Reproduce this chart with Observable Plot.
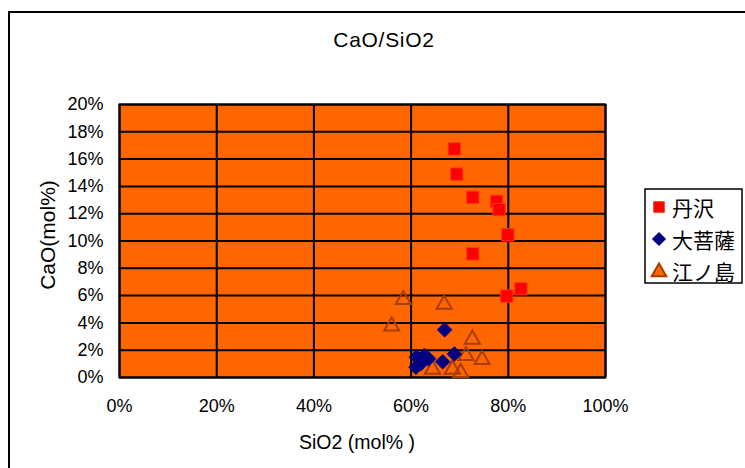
<!DOCTYPE html>
<html>
<head>
<meta charset="utf-8">
<script src="https://cdn.jsdelivr.net/npm/d3@7"></script>
<script src="https://cdn.jsdelivr.net/npm/@observablehq/plot@0.6"></script>
<style>
  body { margin: 0; background: #fff; }
  #chart { position: relative; width: 745px; height: 468px; }
</style>
</head>
<body>
<div id="chart"></div>
<script>
// ---- data (fractions; axes show percent) ----
const chartTitle = "CaO/SiO2";
const xTitle = "SiO2 (mol% )";
const yTitle = "CaO(mol%)";
const seriesNames = ["丹沢", "大菩薩", "江ノ島"];

const tanzawaSiO2 = [0.689, 0.694, 0.727, 0.776, 0.781, 0.799, 0.727, 0.826, 0.797];
const tanzawaCaO  = [0.1675, 0.149, 0.132, 0.129, 0.123, 0.1045, 0.0906, 0.065, 0.0596];

const daibosatsuSiO2 = [0.669, 0.689, 0.665, 0.636, 0.627, 0.611, 0.620, 0.610];
const daibosatsuCaO  = [0.035, 0.0172, 0.0116, 0.0138, 0.0160, 0.0150, 0.0100, 0.0075];

const enoshimaSiO2 = [0.584, 0.668, 0.560, 0.726, 0.713, 0.746, 0.644, 0.685, 0.702];
const enoshimaCaO  = [0.057, 0.0535, 0.0376, 0.028, 0.016, 0.013, 0.0060, 0.0060, 0.0035];

const xTicks = [0, 0.2, 0.4, 0.6, 0.8, 1.0];
const yTicks = [0, 0.02, 0.04, 0.06, 0.08, 0.10, 0.12, 0.14, 0.16, 0.18, 0.20];

// ---- build table ----
const toRows = (xs, ys, name) => xs.map((x, i) => ({ x, y: ys[i], s: name }));
const tanzawa = toRows(tanzawaSiO2, tanzawaCaO, seriesNames[0]);
const daibosatsu = toRows(daibosatsuSiO2, daibosatsuCaO, seriesNames[1]);
const enoshima = toRows(enoshimaSiO2, enoshimaCaO, seriesNames[2]);

const pct = d3.format(".0%");
const FONT = "'Liberation Sans', Arial, sans-serif";

const plot = Plot.plot({
  width: 745,
  height: 468,
  marginLeft: 119,
  marginRight: 140,
  marginTop: 104,
  marginBottom: 91,
  style: { fontFamily: FONT, background: "#fff", color: "#000" },
  x: { domain: [0, 1], ticks: xTicks },
  y: { domain: [0, 0.2], ticks: yTicks },
  marks: [
    Plot.frame({ fill: "#FF6600", stroke: null }),
    Plot.gridX(xTicks, { stroke: "#000", strokeOpacity: 1, strokeWidth: 2 }),
    Plot.gridY(yTicks, { stroke: "#000", strokeOpacity: 1, strokeWidth: 2 }),
    Plot.frame({ stroke: "#000", strokeWidth: 2 }),
    Plot.axisX({ ticks: xTicks, tickFormat: pct, tickSize: 0, tickPadding: 22, label: null, fontSize: 18 }),
    Plot.axisY({ ticks: yTicks, tickFormat: pct, tickSize: 0, tickPadding: 16, label: null, fontSize: 18 }),
    Plot.dot(enoshima, { x: "x", y: "y", symbol: "triangle", r: 5.6, fill: "none", stroke: "#A83C05", strokeWidth: 2 }),
    Plot.dot(daibosatsu, { x: "x", y: "y", symbol: "diamond2", r: 7, fill: "#000080", stroke: "none" }),
    Plot.dot(tanzawa, { x: "x", y: "y", symbol: "square", r: 7, fill: "#FF0000", stroke: "#FF3A1A", strokeWidth: 1 })
  ]
});

document.getElementById("chart").appendChild(plot);

// ---- decorations: outer frame, title, axis titles, legend ----
const svg = d3.select(plot);

svg.append("rect")
  .attr("x", 9).attr("y", 12).attr("width", 760).attr("height", 480)
  .attr("fill", "none").attr("stroke", "#000").attr("stroke-width", 2);

svg.append("text")
  .attr("x", 384).attr("y", 39)
  .attr("text-anchor", "middle").attr("dominant-baseline", "central")
  .style("font-family", FONT).style("font-size", "21px").style("letter-spacing", "0.7px")
  .text(chartTitle);

svg.append("text")
  .attr("x", 357).attr("y", 442)
  .attr("text-anchor", "middle").attr("dominant-baseline", "central")
  .style("font-family", FONT).style("font-size", "19.5px")
  .text(xTitle);

svg.append("text")
  .attr("transform", "translate(47,235) rotate(-90)")
  .attr("text-anchor", "middle").attr("dominant-baseline", "central")
  .style("font-family", FONT).style("font-size", "21px")
  .text(yTitle);

const lg = svg.append("g");
lg.append("rect")
  .attr("x", 645).attr("y", 189).attr("width", 97).attr("height", 94)
  .attr("fill", "#fff").attr("stroke", "#000").attr("stroke-width", 1.5);

const legendSymbols = [
  { path: d3.symbol(d3.symbolSquare, Math.PI * 6 * 6)(), fill: "#FF0000", stroke: "#FF3A1A", sw: 1 },
  { path: d3.symbol(d3.symbolDiamond2, Math.PI * 6.4 * 6.4)(), fill: "#000080", stroke: "none", sw: 0 },
  { path: d3.symbol(d3.symbolTriangle, Math.PI * 5.4 * 5.4)(), fill: "#FF6600", stroke: "#A83C05", sw: 2 }
];
seriesNames.forEach((name, i) => {
  const cy = 207 + i * 32;
  lg.append("path")
    .attr("d", legendSymbols[i].path)
    .attr("transform", `translate(659,${cy + (i === 2 ? 1 : 0)})`)
    .attr("fill", legendSymbols[i].fill)
    .attr("stroke", legendSymbols[i].stroke)
    .attr("stroke-width", legendSymbols[i].sw);
  lg.append("text")
    .attr("x", 672).attr("y", cy)
    .attr("text-anchor", "start")
    .attr("dominant-baseline", "central")
    .style("font-family", "'Noto Sans CJK JP', sans-serif")
    .style("font-size", "21px")
    .text(name);
});
</script>
</body>
</html>
